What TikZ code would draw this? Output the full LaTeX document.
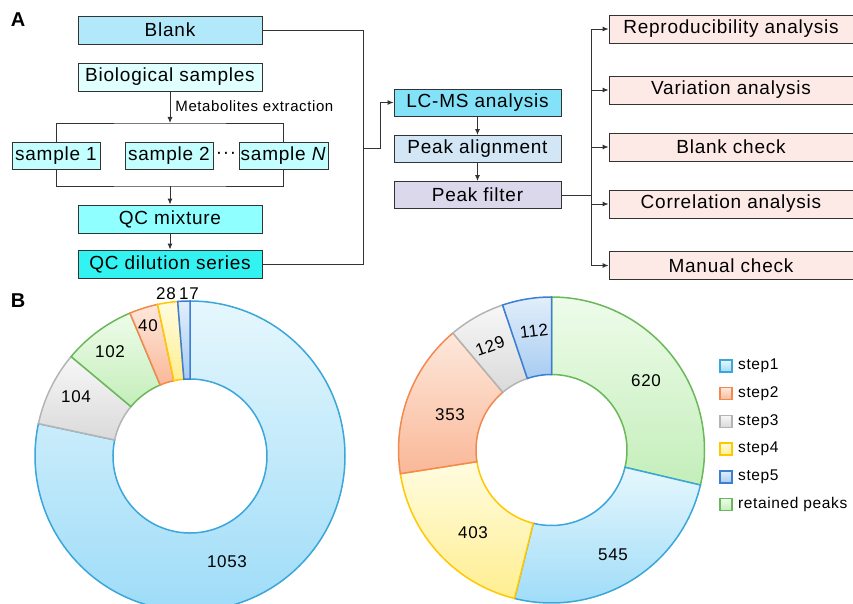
\documentclass[tikz,border=0pt]{standalone}
\usepackage{fontspec}
\setmainfont{Liberation Sans}[LetterSpace=4]
\usetikzlibrary{positioning,arrows.meta}

\definecolor{blankFill}{HTML}{B2E9FA}
\definecolor{bioFill}{HTML}{E0FFFF}
\definecolor{sampleFill}{HTML}{C4FFFF}
\definecolor{mixFill}{HTML}{8FFFFF}
\definecolor{dilFill}{HTML}{33F2F2}
\definecolor{lcmsFill}{HTML}{84E2F8}
\definecolor{alignFill}{HTML}{D2E6F6}
\definecolor{filterFill}{HTML}{DCD8EC}
\definecolor{checkFill}{HTML}{FDEAE6}
\definecolor{stepAline}{HTML}{3AA6DA}\definecolor{stepAtop}{HTML}{E6F7FD}\definecolor{stepAbot}{HTML}{9EDCF8}
\definecolor{stepBline}{HTML}{F28A50}\definecolor{stepBtop}{HTML}{FDE8DC}\definecolor{stepBbot}{HTML}{FAB898}
\definecolor{stepCline}{HTML}{B4B4B4}\definecolor{stepCtop}{HTML}{F7F7F7}\definecolor{stepCbot}{HTML}{DADADA}
\definecolor{stepDline}{HTML}{FFC800}\definecolor{stepDtop}{HTML}{FFFCE0}\definecolor{stepDbot}{HTML}{FFEE90}
\definecolor{stepEline}{HTML}{3A7FD5}\definecolor{stepEtop}{HTML}{E2EEFA}\definecolor{stepEbot}{HTML}{A8CCF2}
\definecolor{keptLine}{HTML}{6AB85A}\definecolor{keptTop}{HTML}{EEFCEA}\definecolor{keptBot}{HTML}{C4EEBA}

\def\leftR{155}
\def\leftr{77}
\def\rightR{153}
\def\rightr{75.5}

\begin{document}
\begin{tikzpicture}[x=1pt, y=-1pt, >={Latex[length=6pt,width=5pt]}, draw=black!80, line width=0.9pt, font=\fontsize{19}{22}\selectfont]
    \tikzstyle{box}=[draw=black!80, minimum height=28pt, inner sep=0pt]
    \tikzstyle{main box}=[box, minimum width=184pt]
    \tikzstyle{sample box}=[box, fill=sampleFill, minimum width=88pt, minimum height=27pt]
    \tikzstyle{ms box}=[box, minimum width=167pt, minimum height=27pt]
    \tikzstyle{check box}=[box, fill=checkFill, minimum width=244pt]
    \tikzstyle{slice}=[line width=1.5pt]
    \tikzstyle{step1 slice}=[slice, draw=stepAline, top color=stepAtop, bottom color=stepAbot]
    \tikzstyle{step2 slice}=[slice, draw=stepBline, top color=stepBtop, bottom color=stepBbot]
    \tikzstyle{step3 slice}=[slice, draw=stepCline, top color=stepCtop, bottom color=stepCbot]
    \tikzstyle{step4 slice}=[slice, draw=stepDline, top color=stepDtop, bottom color=stepDbot]
    \tikzstyle{step5 slice}=[slice, draw=stepEline, top color=stepEtop, bottom color=stepEbot]
    \tikzstyle{kept slice}=[slice, draw=keptLine, top color=keptTop, bottom color=keptBot]
    \tikzstyle{pie label}=[font=\fontsize{17}{20}\selectfont, inner sep=0pt]
    \tikzstyle{legend key}=[minimum size=12pt, inner sep=0pt]
    \tikzstyle{legend text}=[font=\fontsize{15.5}{18}\selectfont, inner sep=0pt]

    \useasboundingbox (0,0) rectangle (853,604);

    % Panel letters
    \node[font=\fontsize{20}{24}\selectfont\bfseries] (A) at (18,20) {A};
    \node[font=\fontsize{20}{24}\selectfont\bfseries] (B) at (18,301) {B};

    % Draw the sample preparation boxes
    \node[main box, fill=blankFill] (blank) at (170,30) {Blank};
    \node[main box, fill=bioFill] (bio) at (170,77) {Biological samples};
    \node[sample box] (s1) at (56,155.5) {sample 1};
    \node[sample box] (s2) at (169,155.5) {sample 2};
    \node[sample box, minimum width=89pt] (sN) at (283.5,155.5) {sample \textit{N}};
    \node (dots) at (226,155) {\textperiodcentered\textperiodcentered\textperiodcentered};
    \node[main box, fill=mixFill] (mix) at (170,219) {QC mixture};
    \node[main box, fill=dilFill] (dil) at (170,264) {QC dilution series};
    \node[anchor=west, font=\fontsize{15}{18}\selectfont, inner sep=0pt] (extr) at (175,106) {Metabolites extraction};

    % Draw the LC-MS boxes
    \node[ms box, fill=lcmsFill] (lcms) at (477.5,102.5) {LC-MS analysis};
    \node[ms box, fill=alignFill] (align) at (477.5,149) {Peak alignment};
    \node[ms box, fill=filterFill] (filter) at (477.5,195) {Peak filter};

    % Draw the filter steps
    \foreach \name / \y / \txt in {1/29/Reproducibility analysis, 2/90/Variation analysis, 3/147/Blank check, 4/204/Correlation analysis, 5/265.5/Manual check}
        \node[check box] (r\name) at (731,\y) {\txt};

    % Connect the boxes
    \coordinate (split) at (170,123);
    \coordinate (merge) at (170,186);
    \draw[->] (bio) -- (split);
    \draw (s1.north) |- (split) -| (sN.north);
    \draw (s1.south) |- (merge) -| (sN.south);
    \draw[->] (merge) -- (mix);
    \draw[->] (mix) -- (dil);

    \coordinate (join) at (363,148);
    \coordinate (feed) at (380,148);
    \draw (blank.east) -| (join);
    \draw (dil.east) -| (join);
    \draw[->] (join) -- (feed) |- (lcms.west);
    \draw[->] (lcms) -- (align);
    \draw[->] (align) -- (filter);

    \coordinate (fork) at (591,195);
    \draw (filter.east) -- (fork);
    \foreach \name in {1,...,5}
        \draw[->] (fork) |- (r\name.west);

    % Left donut
    \begin{scope}[shift={(190,456)}, y=1pt]
        \foreach \a / \b / \s in {90/-192.05/step1 slice, -192.05/-219.91/step3 slice, -219.91/-247.23/kept slice, -247.23/-257.94/step2 slice, -257.94/-265.44/step4 slice, -265.44/-270/step5 slice}
            \filldraw[\s] (\a:\leftR) arc[start angle=\a, end angle=\b, radius=\leftR] -- (\b:\leftr) arc[start angle=\b, end angle=\a, radius=\leftr] -- cycle;
    \end{scope}

    % Right donut
    \begin{scope}[shift={(551.5,450)}, y=1pt]
        \foreach \a / \b / \s in {90/-13.24/kept slice, -13.24/-103.99/step1 slice, -103.99/-171.09/step4 slice, -171.09/-229.87/step2 slice, -229.87/-251.35/step3 slice, -251.35/-270/step5 slice}
            \filldraw[\s] (\a:\rightR) arc[start angle=\a, end angle=\b, radius=\rightR] -- (\b:\rightr) arc[start angle=\b, end angle=\a, radius=\rightr] -- cycle;
    \end{scope}

    % Slice values
    \node[pie label] (v1053) at (227,562) {1053};
    \node[pie label] (v104) at (76,397) {104};
    \node[pie label] (v102) at (110,352) {102};
    \node[pie label] (v40) at (148,326) {40};
    \node[pie label] (v28) at (166,294) {28};
    \node[pie label] (v17) at (189,294) {17};
    \node[pie label] (v620) at (646,381) {620};
    \node[pie label] (v545) at (613,555) {545};
    \node[pie label] (v403) at (473,533) {403};
    \node[pie label] (v353) at (450,415) {353};
    \node[pie label, rotate=20] (v129) at (490,346) {129};
    \node[pie label, rotate=7] (v112) at (534,331) {112};

    % Legend
    \foreach \txt / \s [count=\i] in {step1/step1 slice, step2/step2 slice, step3/step3 slice, step4/step4 slice, step5/step5 slice, retained peaks/kept slice}
    {
        \node[legend key, \s] (key\i) at (726,{366+27.7*(\i-1)}) {};
        \node[legend text, right=5pt of key\i] (lab\i) {\txt};
    }
\end{tikzpicture}
\end{document}
